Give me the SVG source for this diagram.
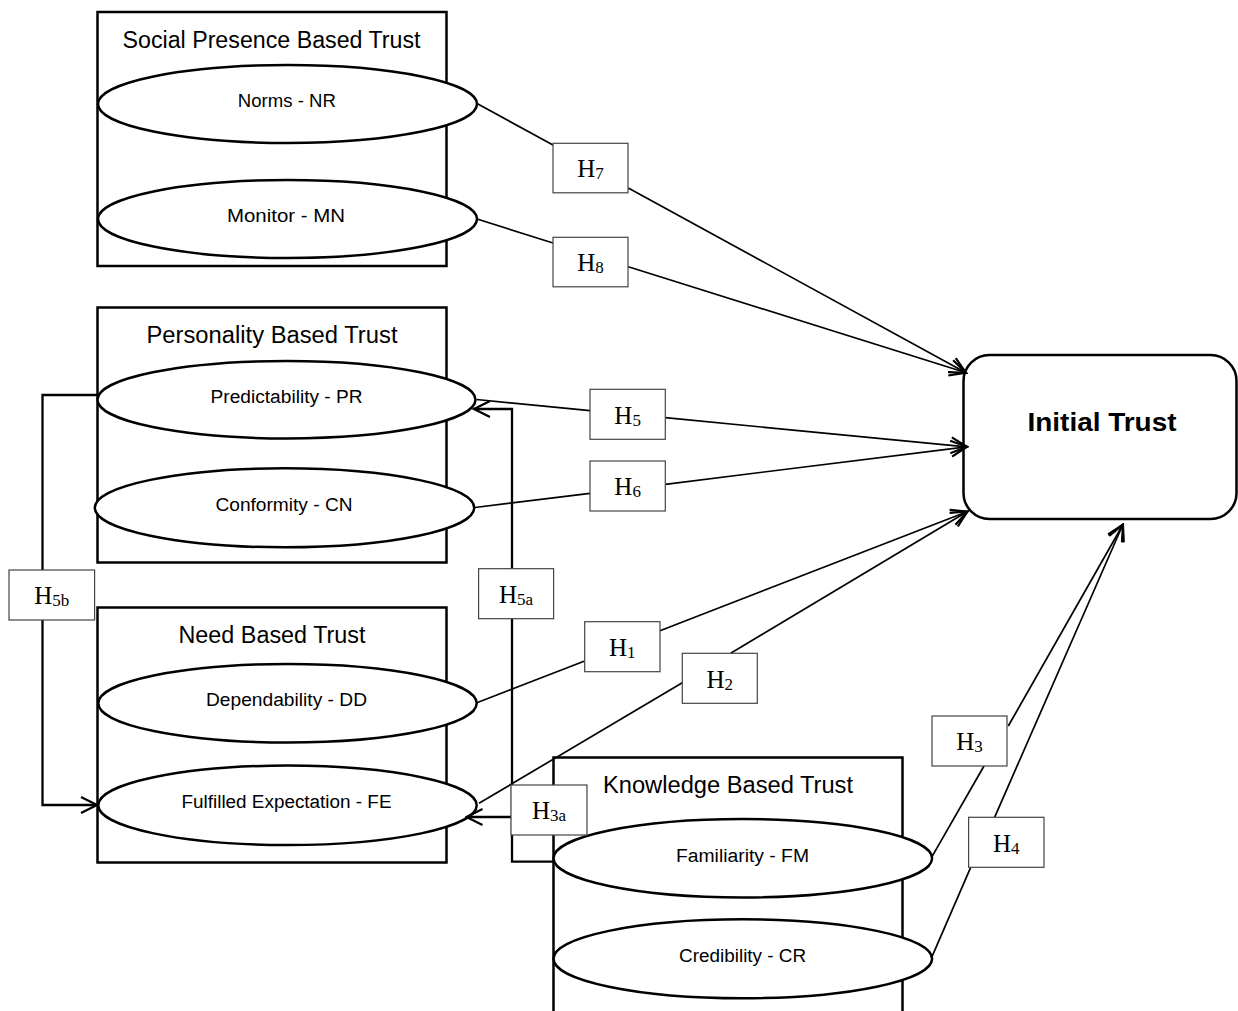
<svg xmlns="http://www.w3.org/2000/svg" width="1238" height="1011" viewBox="0 0 1238 1011">
<style>
.box{fill:#fff;stroke:#000;stroke-width:2.5}
.ell{fill:#fff;stroke:#000;stroke-width:2.5}
.hb{fill:#fff;stroke:#444;stroke-width:1.2}
.ln{fill:none;stroke:#000;stroke-width:1.7}
.el{fill:none;stroke:#000;stroke-width:2.3}
.title{font-family:"Liberation Sans",Arial,sans-serif;font-size:23px;text-anchor:middle;fill:#000}
.lab{font-family:"Liberation Sans",Arial,sans-serif;font-size:18px;text-anchor:middle;fill:#000}
.h{font-family:"Liberation Serif","Times New Roman",serif;font-size:25px;text-anchor:middle;fill:#000}
.sub{font-size:17px}
.it{font-family:"Liberation Sans",Arial,sans-serif;font-size:26px;font-weight:bold;text-anchor:middle;fill:#000}
</style>
<defs>
<marker id="arr" markerUnits="userSpaceOnUse" markerWidth="20" markerHeight="20" viewBox="0 0 20 20" refX="17.5" refY="10" orient="auto">
<path d="M2,2 L18,10 L2,18" fill="none" stroke="#000" stroke-width="2.2"/>
</marker>
</defs>
<rect width="1238" height="1011" fill="#fff"/>

<g id="social-presence-based-trust">
<rect class="box" x="97.5" y="12" width="349" height="254"/>
<text class="title" x="271.5" y="48" textLength="298" lengthAdjust="spacingAndGlyphs">Social Presence Based Trust</text>
</g>
<g id="personality-based-trust">
<rect class="box" x="97.5" y="307.5" width="349" height="255"/>
<text class="title" x="272" y="343" textLength="251" lengthAdjust="spacingAndGlyphs">Personality Based Trust</text>
</g>
<g id="need-based-trust">
<rect class="box" x="97.5" y="607.5" width="349" height="255"/>
<text class="title" x="272" y="643" textLength="187" lengthAdjust="spacingAndGlyphs">Need Based Trust</text>
</g>
<g id="knowledge-based-trust">
<rect class="box" x="553.5" y="757.5" width="349" height="270"/>
<text class="title" x="728" y="793" textLength="250" lengthAdjust="spacingAndGlyphs">Knowledge Based Trust</text>
</g>

<g id="norms">
<ellipse class="ell" cx="287.5" cy="104" rx="189.5" ry="39"/>
<text class="lab" x="286.8" y="107" textLength="98" lengthAdjust="spacingAndGlyphs">Norms - NR</text>
</g>
<g id="monitor">
<ellipse class="ell" cx="287.5" cy="219" rx="189.5" ry="39"/>
<text class="lab" x="286" y="222" textLength="118" lengthAdjust="spacingAndGlyphs">Monitor - MN</text>
</g>
<g id="predictability">
<ellipse class="ell" cx="286.5" cy="399.7" rx="189" ry="38.7"/>
<text class="lab" x="286.6" y="402.5" textLength="152" lengthAdjust="spacingAndGlyphs">Predictability - PR</text>
</g>
<g id="conformity">
<ellipse class="ell" cx="284.5" cy="507.8" rx="189.7" ry="39.5"/>
<text class="lab" x="284" y="511" textLength="137" lengthAdjust="spacingAndGlyphs">Conformity - CN</text>
</g>
<g id="dependability">
<ellipse class="ell" cx="287.5" cy="703.3" rx="189.2" ry="39.3"/>
<text class="lab" x="286.5" y="706" textLength="161" lengthAdjust="spacingAndGlyphs">Dependability - DD</text>
</g>
<g id="fulfilled-expectation">
<ellipse class="ell" cx="287.5" cy="805.3" rx="189.2" ry="39.7"/>
<text class="lab" x="286.5" y="807.5" textLength="210" lengthAdjust="spacingAndGlyphs">Fulfilled Expectation - FE</text>
</g>
<g id="familiarity">
<ellipse class="ell" cx="742.8" cy="858.2" rx="189.3" ry="39.2"/>
<text class="lab" x="742.5" y="861.5" textLength="133" lengthAdjust="spacingAndGlyphs">Familiarity - FM</text>
</g>
<g id="credibility">
<ellipse class="ell" cx="742.8" cy="958.8" rx="189.3" ry="39.5"/>
<text class="lab" x="742.6" y="961.5" textLength="127" lengthAdjust="spacingAndGlyphs">Credibility - CR</text>
</g>

<g id="initial-trust">
<rect class="box" x="963.5" y="355" width="273" height="164" rx="26" ry="26"/>
<text class="it" x="1102" y="431" textLength="149" lengthAdjust="spacingAndGlyphs">Initial Trust</text>
</g>

<g id="connectors">
<line class="ln" x1="477" y1="103.5" x2="553" y2="145"/>
<line class="ln" x1="628.3" y1="188" x2="965.5" y2="372.5" marker-end="url(#arr)"/>
<line class="ln" x1="477" y1="219" x2="553" y2="243"/>
<line class="ln" x1="628.3" y1="266.7" x2="965.5" y2="372.5" marker-end="url(#arr)"/>
<line class="ln" x1="476.5" y1="399.5" x2="590" y2="410.7"/>
<line class="ln" x1="665.3" y1="417.7" x2="966.5" y2="446.8" marker-end="url(#arr)"/>
<line class="ln" x1="475" y1="507.5" x2="590" y2="493.3"/>
<line class="ln" x1="665.3" y1="484.3" x2="966.5" y2="446.8" marker-end="url(#arr)"/>
<line class="ln" x1="476.8" y1="702.7" x2="584.7" y2="661"/>
<line class="ln" x1="660" y1="630.7" x2="967" y2="511.7" marker-end="url(#arr)"/>
<line class="ln" x1="479" y1="803.3" x2="682.3" y2="682.7"/>
<line class="ln" x1="730.7" y1="653.3" x2="967" y2="511.7" marker-end="url(#arr)"/>
<line class="ln" x1="932" y1="856.7" x2="984" y2="766"/>
<line class="ln" x1="1008.3" y1="726" x2="1122.7" y2="525" marker-end="url(#arr)"/>
<line class="ln" x1="932" y1="956.7" x2="970.7" y2="867.3"/>
<line class="ln" x1="994.6" y1="817.3" x2="1122.7" y2="525" marker-end="url(#arr)"/>
<polyline class="el" points="553.6,861.7 512,861.7 512,409 474.5,409" marker-end="url(#arr)"/>
<line class="el" x1="511" y1="817" x2="467" y2="817" marker-end="url(#arr)"/>
<polyline class="el" points="97,395 42.5,395 42.5,805 96.5,805" marker-end="url(#arr)"/>
</g>

<g id="hypothesis-labels">
<g id="h7"><rect class="hb" x="553" y="143.3" width="75" height="49.5"/><text class="h" x="590.5" y="177.3">H<tspan class="sub" dy="2">7</tspan></text></g>
<g id="h8"><rect class="hb" x="553" y="237.3" width="75" height="49.5"/><text class="h" x="590.5" y="271.3">H<tspan class="sub" dy="2">8</tspan></text></g>
<g id="h5"><rect class="hb" x="590" y="389.3" width="75.3" height="50"/><text class="h" x="627.6" y="423.6">H<tspan class="sub" dy="2">5</tspan></text></g>
<g id="h6"><rect class="hb" x="590" y="461" width="75.3" height="50"/><text class="h" x="627.6" y="495.3">H<tspan class="sub" dy="2">6</tspan></text></g>
<g id="h5b"><rect class="hb" x="9" y="570" width="85.6" height="50"/><text class="h" x="51.8" y="604.3">H<tspan class="sub" dy="2">5b</tspan></text></g>
<g id="h5a"><rect class="hb" x="478.6" y="568.7" width="75" height="50"/><text class="h" x="516.1" y="603">H<tspan class="sub" dy="2">5a</tspan></text></g>
<g id="h1"><rect class="hb" x="584.7" y="621.7" width="75.3" height="50"/><text class="h" x="622.3" y="656">H<tspan class="sub" dy="2">1</tspan></text></g>
<g id="h2"><rect class="hb" x="682.3" y="653.3" width="75" height="50"/><text class="h" x="719.8" y="687.6">H<tspan class="sub" dy="2">2</tspan></text></g>
<g id="h3"><rect class="hb" x="932" y="716" width="75" height="50"/><text class="h" x="969.5" y="750.3">H<tspan class="sub" dy="2">3</tspan></text></g>
<g id="h4"><rect class="hb" x="968.6" y="817.3" width="75.4" height="50"/><text class="h" x="1006.3" y="851.6">H<tspan class="sub" dy="2">4</tspan></text></g>
<g id="h3a"><rect class="hb" x="511" y="785" width="76" height="50"/><text class="h" x="549" y="819.3">H<tspan class="sub" dy="2">3a</tspan></text></g>
</g>
</svg>
